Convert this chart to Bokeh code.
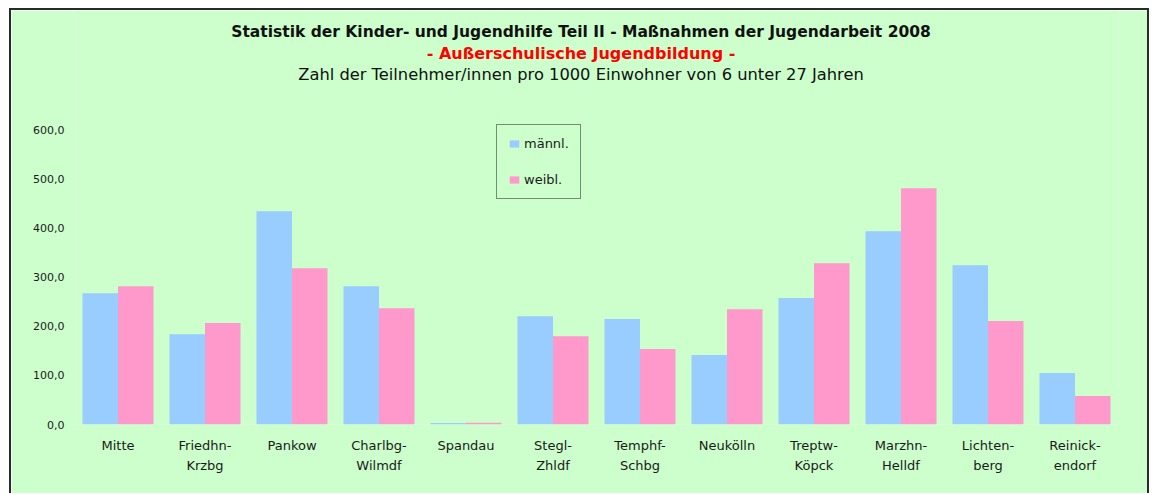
from bokeh.plotting import figure
from bokeh.models import FactorRange, Range1d, Label, FixedTicker, ColumnDataSource
from bokeh.transform import dodge
from bokeh.embed import file_html
from bokeh.resources import INLINE

districts = ["Mitte", "Friedhn-\nKrzbg", "Pankow", "Charlbg-\nWilmdf", "Spandau",
             "Stegl-\nZhldf", "Temphf-\nSchbg", "Neukölln", "Treptw-\nKöpck",
             "Marzhn-\nHelldf", "Lichten-\nberg", "Reinick-\nendorf"]
maennl = [268, 184, 435, 282, 3.2, 221, 215, 142, 258, 394, 325, 105]
weibl = [282, 207, 319, 237, 3.5, 180, 154, 235, 329, 482, 211, 58]
y_ticks = [0, 100, 200, 300, 400, 500, 600]
y_tick_labels = ["0,0", "100,0", "200,0", "300,0", "400,0", "500,0", "600,0"]
series_names = ["männl.", "weibl."]
title_1 = "Statistik der Kinder- und Jugendhilfe Teil II - Maßnahmen der Jugendarbeit 2008"
title_2 = "- Außerschulische Jugendbildung -"
title_3 = "Zahl der Teilnehmer/innen pro 1000 Einwohner von 6 unter 27 Jahren"

BG = "#CCFFCC"
BLUE = "#99CCFF"
PINK = "#FF99CC"
FONT = "DejaVu Sans"

src = ColumnDataSource(dict(d=districts, m=maennl, w=weibl))

p = figure(width=1140, height=485, output_backend="svg", toolbar_location=None,
           x_range=FactorRange(factors=districts, range_padding=0),
           y_range=Range1d(0, 844.6),
           min_border_left=63, min_border_right=33, min_border_top=0, min_border_bottom=71)
p.styles = {"border-top": "2px solid #2a2a2a", "border-left": "2px solid #2a2a2a",
            "border-right": "2px solid #2a2a2a"}
p.margin = (8, 0, 0, 9)
p.background_fill_color = BG
p.border_fill_color = BG
p.outline_line_color = None
p.grid.visible = False

p.vbar(x=dodge("d", -0.204, range=p.x_range), top="m", width=0.408, source=src,
       fill_color=BLUE, line_color=None, legend_label=series_names[0])
p.vbar(x=dodge("d", 0.204, range=p.x_range), top="w", width=0.408, source=src,
       fill_color=PINK, line_color=None, legend_label=series_names[1])

ya = p.yaxis[0]
ya.ticker = FixedTicker(ticks=y_ticks)
ya.major_label_overrides = {t: l for t, l in zip(y_ticks, y_tick_labels)}
ya.axis_line_color = None
ya.major_tick_line_color = None
ya.minor_tick_line_color = None
ya.major_tick_out = 0
ya.major_label_standoff = 10
ya.major_label_text_font = FONT
ya.major_label_text_font_size = "11px"
ya.major_label_text_color = "#1a1a1a"

xa = p.xaxis[0]
xa.axis_line_color = None
xa.major_tick_line_color = None
xa.major_tick_out = 0
xa.major_label_standoff = 13
xa.major_label_text_font = FONT
xa.major_label_text_font_size = "13px"
xa.major_label_text_color = "#1a1a1a"
xa.major_label_text_line_height = 1.35

lg = p.legend[0]
lg.location = (422, 225)
lg.margin = 0
lg.padding = 11
lg.spacing = 21
lg.glyph_width = 12
lg.glyph_height = 9
lg.label_height = 13
lg.label_standoff = 4
lg.label_text_font = FONT
lg.label_text_font_size = "13px"
lg.label_text_color = "#1a1a1a"
lg.background_fill_alpha = 0
lg.border_line_color = "#1a1a1a"
lg.border_line_width = 1

cx = 5.822
for txt, yv, size, style, color in [
    (title_1, 801.7, "15.5px", "bold", "#111111"),
    (title_2, 756.8, "16px", "bold", "#FF0000"),
    (title_3, 714.0, "16.3px", "normal", "#111111"),
]:
    p.add_layout(Label(x=cx, y=yv, text=txt, text_align="center", text_baseline="middle",
                       text_font=FONT, text_font_size=size, text_font_style=style,
                       text_color=color))

open("out.html", "w").write(file_html(p, INLINE))
